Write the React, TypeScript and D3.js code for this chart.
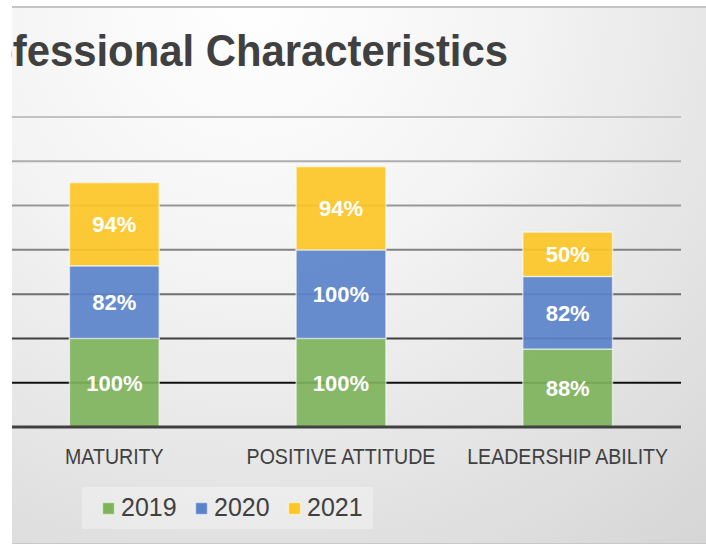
import React from "react";
import * as d3 from "d3";

// chart values
const categories = ["MATURITY", "POSITIVE ATTITUDE", "LEADERSHIP ABILITY"];
const years = ["2019", "2020", "2021"];
const values2019 = [100, 100, 88];
const values2020 = [82, 100, 82];
const values2021 = [94, 94, 50];
const yMax = 350;
const title = "Professional Characteristics";

const colors = ["#7eb35c", "#5a83cb", "#fdc526"];

const W = 706;
const H = 545;
const left = 12;
const narrow = 0.89; // condensed look for the axis labels

const App = () => {
  const rows = categories.map((c, i) => ({
    cat: c,
    "2019": values2019[i],
    "2020": values2020[i],
    "2021": values2021[i],
  }));
  const series = d3.stack<any>().keys(years)(rows);

  const x = d3.scaleBand<string>()
    .domain(categories)
    .range([1, 681])
    .paddingInner(0.604)
    .paddingOuter(0.302);

  const y = d3.scaleLinear().domain([0, yMax]).range([427, 117]);

  const gridColor = d3.scaleLinear<string>()
    .domain([50, 150, 350])
    .range(["#111111", "#6e6e6e", "#c2c2c2"]);

  const ticks = y.ticks(7).filter(t => t > 0);
  const fmt = (v: number) => v + "%";

  return (
    <svg width={W} height={H} style={{ position: "absolute", left: 0, top: 0, display: "block" }}>
      <defs>
        <radialGradient id="bg" gradientUnits="userSpaceOnUse" cx={250} cy={0} r={760}>
          <stop offset="0" stopColor="#ffffff" />
          <stop offset="0.35" stopColor="#f4f4f4" />
          <stop offset="1" stopColor="#d2d2d2" />
        </radialGradient>
        <clipPath id="clip">
          <rect x={11} y={0} width={W} height={H} />
        </clipPath>
      </defs>
      <rect x={0} y={0} width={W} height={H} fill="#ffffff" />
      <rect x={left} y={7} width={W - left} height={536} fill="url(#bg)" />
      <line x1={left} x2={W} y1={7} y2={7} stroke="#c4c4c4" strokeWidth={2} />
      <line x1={left} x2={W} y1={543.5} y2={543.5} stroke="#c8c8c8" strokeWidth={1} />

      <g clipPath="url(#clip)">
        <text
          transform="scale(0.93,1)"
          x={508 / 0.93}
          y={66}
          textAnchor="end"
          fontFamily="Liberation Sans, Arial, sans-serif"
          fontWeight="bold"
          fontSize={45}
          fill="#404040"
        >
          {title}
        </text>
      </g>

      {/* gridlines */}
      {ticks.map(t => (
        <line key={t} x1={left} x2={681} y1={y(t)} y2={y(t)} stroke={gridColor(t)} strokeWidth={2} />
      ))}

      {/* bars */}
      {series.map((s, si) => (
        <g key={s.key}>
          {s.map((d, i) => (
            <g key={i}>
              <rect
                x={x(categories[i])}
                y={y(d[1])}
                width={x.bandwidth()}
                height={y(d[0]) - y(d[1])}
                fill={colors[si]}
                fillOpacity={0.92}
                stroke="#ffffff"
                strokeOpacity={0.55}
                strokeWidth={1.5}
              />
              <text
                x={(x(categories[i]) as number) + x.bandwidth() / 2}
                y={(y(d[0]) + y(d[1])) / 2}
                dy="0.36em"
                textAnchor="middle"
                fontFamily="Liberation Sans, Arial, sans-serif"
                fontWeight="bold"
                fontSize={22}
                fill="#ffffff"
              >
                {fmt(d[1] - d[0])}
              </text>
            </g>
          ))}
        </g>
      ))}

      {/* baseline */}
      <line x1={left} x2={681} y1={y(0)} y2={y(0)} stroke="#404040" strokeWidth={3} />

      {/* category labels */}
      {categories.map(c => (
        <text
          key={c}
          transform={`scale(${narrow},1)`}
          x={((x(c) as number) + x.bandwidth() / 2) / narrow}
          y={464}
          textAnchor="middle"
          fontFamily="Liberation Sans, Arial, sans-serif"
          fontSize={22}
          fill="#404040"
        >
          {c}
        </text>
      ))}

      {/* legend */}
      <rect x={82} y={487} width={291} height={42} fill="#ffffff" fillOpacity={0.3} />
      {years.map((yr, i) => (
        <g key={yr} transform={`translate(${102 + i * 93},0)`}>
          <rect x={0.5} y={502.5} width={12} height={12} fill={colors[i]} stroke="#ffffff" strokeOpacity={0.5} strokeWidth={1.5} />
          <text
            x={19}
            y={516}
            fontFamily="Liberation Sans, Arial, sans-serif"
            fontSize={25}
            fill="#404040"
          >
            {yr}
          </text>
        </g>
      ))}
    </svg>
  );
};

export default App;
